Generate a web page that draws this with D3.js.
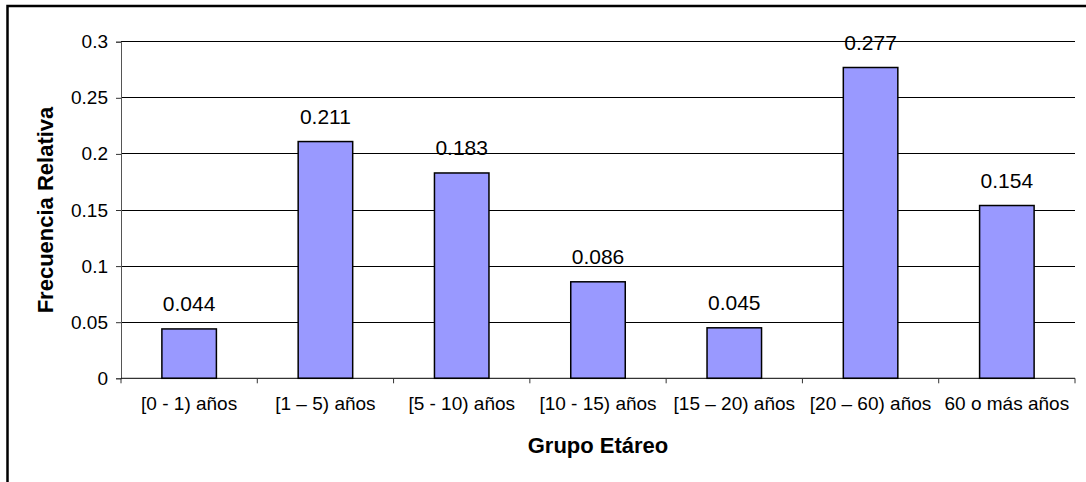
<!DOCTYPE html>
<html>
<head>
<meta charset="utf-8">
<script src="https://cdn.jsdelivr.net/npm/d3@7"></script>
<style>
  body { margin: 0; background: #fff; }
  text { font-family: "Liberation Sans", Arial, sans-serif; fill: #000; }
</style>
</head>
<body>
<script>
var categories = ['[0 - 1) años', '[1 – 5) años', '[5 - 10) años', '[10 - 15) años',
                  '[15 – 20) años', '[20 – 60) años', '60 o más años'];
var values = [0.044, 0.211, 0.183, 0.086, 0.045, 0.277, 0.154];
var yTicks = [0, 0.05, 0.1, 0.15, 0.2, 0.25, 0.3];
var yTickLabels = ['0', '0.05', '0.1', '0.15', '0.2', '0.25', '0.3'];

var width  = 1086,
    height = 482;

var plot = {left: 121, right: 1075, top: 41.7, bottom: 378.3};

var svg = d3.select('body').append('svg')
    .attr('width', width)
    .attr('height', height);

// chart frame (runs past the picture edge on right and bottom)
svg.append('rect')
    .attr('x', 7.5).attr('y', 6)
    .attr('width', 1100).attr('height', 500)
    .attr('fill', '#fff')
    .attr('stroke', '#000')
    .attr('stroke-width', 2.5);

var x = d3.scaleBand()
    .domain(categories)
    .range([plot.left, plot.right])
    .paddingInner(0.6)
    .paddingOuter(0.3);

var y = d3.scaleLinear()
    .domain([0, 0.3])
    .range([plot.bottom, plot.top]);

// gridlines
svg.append('g').selectAll('line')
    .data(yTicks.slice(1))
    .enter().append('line')
    .attr('x1', plot.left).attr('x2', plot.right)
    .attr('y1', function(d) {return y(d);})
    .attr('y2', function(d) {return y(d);})
    .attr('stroke', '#000')
    .attr('stroke-width', 1)
    .attr('shape-rendering', 'crispEdges');

// y axis
var yAxis = svg.append('g')
    .attr('transform', 'translate(' + plot.left + ',0)')
    .call(d3.axisLeft(y).tickValues(yTicks).tickSize(5).tickPadding(8)
      .tickFormat(function(d, i) {return yTickLabels[i];}));
yAxis.select('.domain').attr('stroke', '#555');
yAxis.selectAll('.tick line').attr('stroke', '#333');
yAxis.selectAll('text').style('font-size', '19px');

// bars
svg.append('g').selectAll('rect')
    .data(values)
    .enter().append('rect')
    .attr('x', function(d, i) {return x(categories[i]);})
    .attr('y', function(d) {return y(d);})
    .attr('width', x.bandwidth())
    .attr('height', function(d) {return y(0) - y(d);})
    .attr('fill', '#9999FF')
    .attr('stroke', '#000')
    .attr('stroke-width', 1.5);

// value labels
svg.append('g').selectAll('text')
    .data(values)
    .enter().append('text')
    .attr('x', function(d, i) {return x(categories[i]) + x.bandwidth() / 2;})
    .attr('y', function(d) {return y(d) - 18;})
    .attr('text-anchor', 'middle')
    .style('font-size', '21px')
    .text(function(d) {return d3.format('.3f')(d);});

// x axis (ticks at band edges)
var step = x.step();
var edges = d3.range(categories.length + 1).map(function(i) {
  return plot.left + i * step;
});
svg.append('line')
    .attr('x1', plot.left).attr('x2', plot.right)
    .attr('y1', y(0)).attr('y2', y(0))
    .attr('stroke', '#000');
svg.append('g').selectAll('line')
    .data(edges)
    .enter().append('line')
    .attr('x1', function(d) {return d;})
    .attr('x2', function(d) {return d;})
    .attr('y1', y(0)).attr('y2', y(0) + 5)
    .attr('stroke', '#333');
svg.append('g').selectAll('text')
    .data(categories)
    .enter().append('text')
    .attr('x', function(d) {return x(d) + x.bandwidth() / 2;})
    .attr('y', 410)
    .attr('text-anchor', 'middle')
    .style('font-size', '19px')
    .text(function(d) {return d;});

// axis titles
svg.append('text')
    .attr('x', (plot.left + plot.right) / 2)
    .attr('y', 453)
    .attr('text-anchor', 'middle')
    .style('font-size', '22px')
    .style('font-weight', 'bold')
    .text('Grupo Etáreo');

svg.append('text')
    .attr('transform', 'translate(53,' + ((plot.top + plot.bottom) / 2) + ') rotate(-90)')
    .attr('text-anchor', 'middle')
    .style('font-size', '22px')
    .style('font-weight', 'bold')
    .text('Frecuencia Relativa');
</script>
</body>
</html>
